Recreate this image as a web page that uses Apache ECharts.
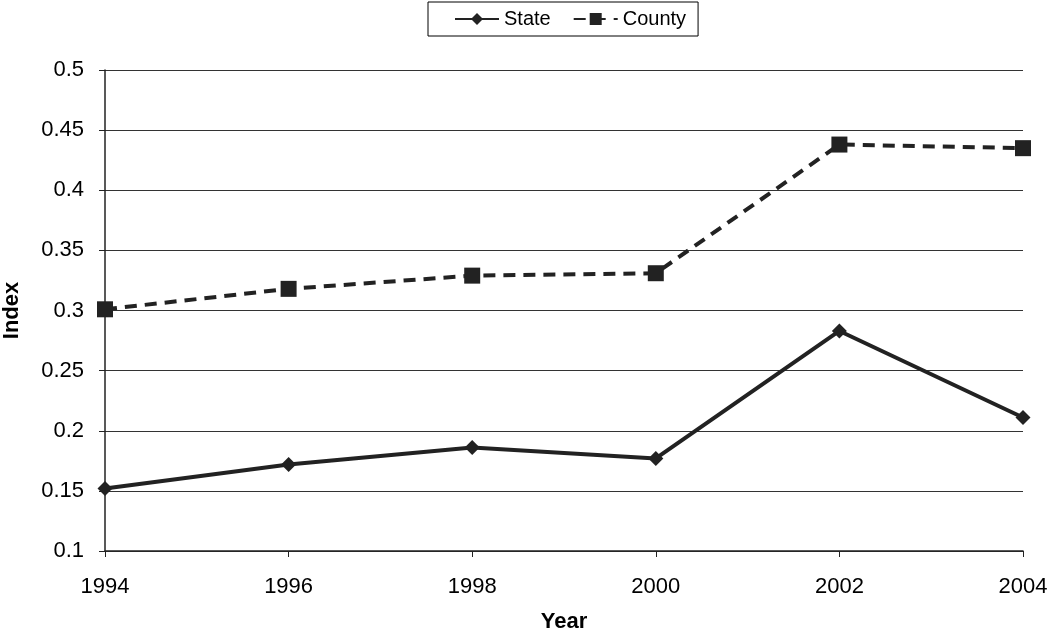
<!DOCTYPE html>
<html><head><meta charset="utf-8">
<script src="https://cdn.jsdelivr.net/npm/echarts@6/dist/echarts.min.js"></script>
<style>html,body{margin:0;padding:0;background:#fff}#c{width:1050px;height:632px}</style>
</head><body><div id="c"></div>
<script>
const years = ['1994','1996','1998','2000','2002','2004'];
const stateVals = [0.152, 0.172, 0.186, 0.177, 0.283, 0.211];
const countyVals = [0.301, 0.318, 0.329, 0.331, 0.438, 0.435];
const yTicks = [0.1, 0.5, 0.05];

const chart = echarts.init(document.getElementById('c'), null, {renderer:'canvas'});
const font = '"Liberation Sans", Arial, sans-serif';
chart.setOption({
  animation:false,
  backgroundColor:'#fff',
  grid:{left:105, right:27, top:70, bottom:81, containLabel:false, outerBoundsMode:'none'},
  legend:{
    top:2, left:428, width:272, height:34,
    itemGap:22, padding:[7,12,7,26],
    borderColor:'#000', borderWidth:1,
    itemWidth:44, itemHeight:15,
    textStyle:{fontFamily:font, fontSize:20, color:'#000'},
    data:[{name:'State'},{name:'County'}]
  },
  xAxis:{
    type:'category', data:years, boundaryGap:false,
    name:'Year', nameLocation:'middle', nameGap:60,
    nameTextStyle:{fontFamily:font, fontSize:22, fontWeight:'bold', color:'#000'},
    axisLine:{lineStyle:{color:'#222', width:1.5}},
    axisTick:{show:true, length:6, lineStyle:{color:'#222'}},
    axisLabel:{fontFamily:font, fontSize:22, color:'#000', margin:25},
    splitLine:{show:false}
  },
  yAxis:{
    type:'value', min:yTicks[0], max:yTicks[1], interval:yTicks[2],
    name:'Index', nameLocation:'middle', nameGap:82, nameRotate:90,
    nameTextStyle:{fontFamily:font, fontSize:22, fontWeight:'bold', color:'#000'},
    axisLine:{show:true, lineStyle:{color:'#222', width:1.5}},
    axisTick:{show:true, length:6, lineStyle:{color:'#222'}},
    axisLabel:{fontFamily:font, fontSize:22, color:'#000', margin:21,
      formatter:v=>String(parseFloat(v.toFixed(2)))},
    splitLine:{show:true, lineStyle:{color:'#333', width:1}}
  },
  series:[
    {name:'State', type:'line', data:stateVals, symbol:'diamond', symbolSize:15,
      lineStyle:{color:'#222', width:4, type:'solid'},
      itemStyle:{color:'#222'}, z:3},
    {name:'County', type:'line', data:countyVals, symbol:'rect', symbolSize:16,
      lineStyle:{color:'#222', width:4, type:[12,8]},
      itemStyle:{color:'#222'}, z:3}
  ]
});
</script></body></html>
